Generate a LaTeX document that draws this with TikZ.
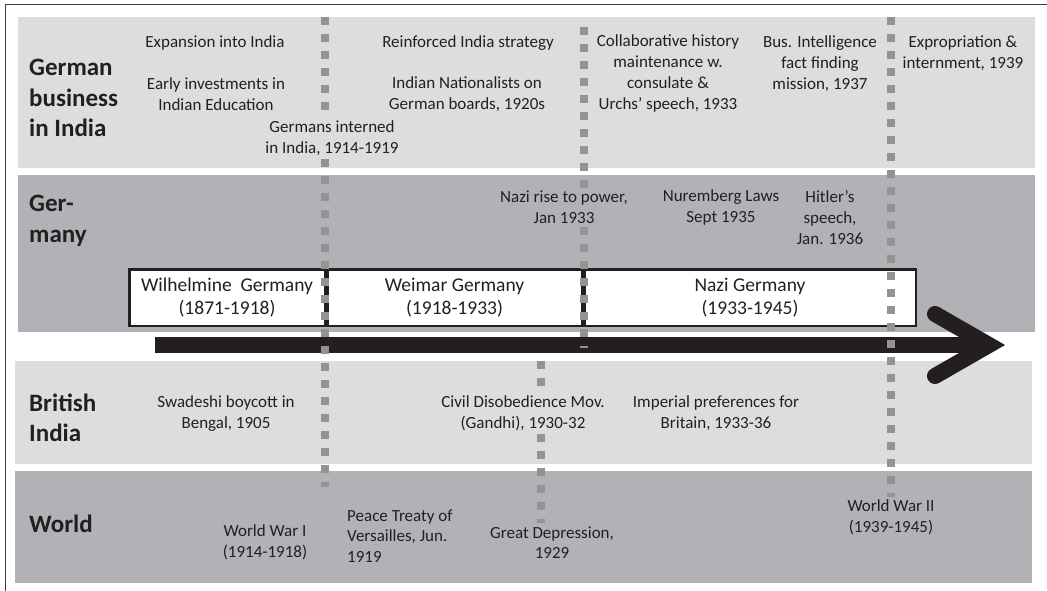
\documentclass[tikz,border=0pt]{standalone}
\usepackage{fontspec}
\setmainfont{Carlito}
\definecolor{ink}{HTML}{231F20}
\definecolor{bandlight}{HTML}{DCDDDF}
\definecolor{banddark}{HTML}{B1B2B5}
\definecolor{dotgray}{HTML}{939393}
\begin{document}
\begin{tikzpicture}[x=1pt,y=-1pt]
\tikzstyle{head} = [
 anchor=west,
 align=left,
 inner sep=0pt,
 text=ink,
 font=\fontsize{25}{30.5}\selectfont\bfseries
]
\tikzstyle{event} = [
 align=center,
 inner sep=3pt,
 text=ink,
 font=\fontsize{17}{20.7}\selectfont
]
\tikzstyle{period} = [
 draw=ink,
 fill=white,
 line width=2.5pt,
 minimum height=56.5pt,
 align=center,
 inner sep=0pt,
 text=ink,
 font=\fontsize{19.5}{23.5}\selectfont
]
\tikzstyle{era} = [
 dotgray,
 line width=8pt,
 dash pattern=on 8pt off 9pt
]
\useasboundingbox (0,0) rectangle (1047,591);
\path[draw=black!75,line width=1pt] (5,591) -- (5,5) -- (1047,5);

\path[fill=bandlight] (18,17) rectangle (1035,168);
\path[fill=banddark] (18,175) rectangle (1035,332);
\path[fill=bandlight] (15,361) rectangle (1032,464);
\path[fill=banddark] (15,471) rectangle (1032,583);

\node[head] at (29,98) (hbiz) {German\\business\\in India};
\node[head] at (29,221) (hger) {Ger-\\many};
\node[head] at (29,418) (hbrit) {British\\India};
\node[head] at (29,523.5) (hworld) {World};

\node[event] at (215,43) (expand) {Expansion into India};
\node[event] at (216,94) (earlyinv) {Early investments in\\Indian Education};
\node[event] at (332,138.5) (interned) {Germans interned\\in India, 1914-1919};
\node[event] at (468,43) (reinforced) {Reinforced India strategy};
\node[event] at (467,94) (nationalists) {Indian Nationalists on\\German boards, 1920s};
\node[event] at (668,73.5) (collab) {Collaborative history\\maintenance w.\\consulate \&\\Urchs’ speech, 1933};
\node[event] at (820,63.5) (busint) {Bus. Intelligence\\fact finding\\mission, 1937};
\node[event] at (963,53.5) (exprop) {Expropriation \&\\internment, 1939};

\node[event] at (564,207.5) (nazirise) {Nazi rise to power,\\Jan 1933};
\node[event] at (721,207.5) (nuremberg) {Nuremberg Laws\\Sept 1935};
\node[event] at (830,217.5) (hitler) {Hitler’s\\speech,\\Jan. 1936};

\node[period,minimum width=195.5pt] at (227,297.5) (wilhelm) {Wilhelmine\ \ Germany\\(1871-1918)};
\node[period,minimum width=254.5pt] at (454.5,297.5) (weimar) {Weimar Germany\\(1918-1933)};
\node[period,minimum width=331.5pt] at (750,297.5) (nazi) {Nazi Germany\\(1933-1945)};

\node[event] at (226,413.5) (swadeshi) {Swadeshi boycott in\\Bengal, 1905};
\node[event] at (523,413.5) (civil) {Civil Disobedience Mov.\\(Gandhi), 1930-32};
\node[event] at (716,413.5) (imperial) {Imperial preferences for\\Britain, 1933-36};

\node[event] at (265,542) (ww1) {World War I\\(1914-1918)};
\node[event,anchor=west,align=left] at (344,536) (versailles) {Peace Treaty of\\Versailles, Jun.\\1919};
\node[event] at (552,542.5) (depression) {Great Depression,\\1929};
\node[event] at (891,517.5) (ww2) {World War II\\(1939-1945)};

\coordinate (tstart) at (155,345);
\coordinate (ttip) at (989,345);
\path[draw=ink,line width=16.6pt] (tstart) -- (ttip);
\path[draw=ink,line width=16pt,line cap=round] (935,314) -- (ttip) -- (935,376);

\coordinate (a0) at (325,17);
\coordinate (a1) at (325,487);
\coordinate (b0) at (584,27);
\coordinate (b1) at (584,348);
\coordinate (c0) at (541,361);
\coordinate (d0) at (891,17);
\path[draw,era] (a0) -- (a0 |- interned.north);
\path[draw,era] (a0 |- interned.south) -- (a1);
\path[draw,era] (b0) -- (b0 |- nazirise.north);
\path[draw,era] (b0 |- nazirise.south) -- (b1);
\path[draw,era] (c0) -- (c0 |- civil.north);
\path[draw,era] (c0 |- civil.south) -- (c0 |- depression.north);
\path[draw,era] (d0) -- (d0 |- ww2.north);
\end{tikzpicture}
\end{document}
